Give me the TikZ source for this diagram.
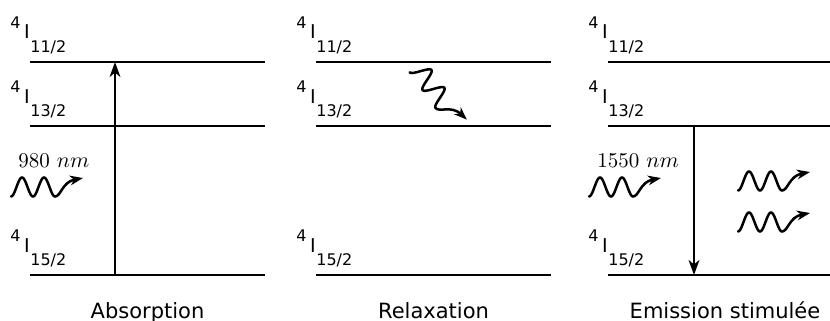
\documentclass[tikz,border=0pt]{standalone}
\usepackage{fontspec}
\newfontfamily\dejavu{DejaVu Sans}
\usetikzlibrary{arrows.meta}
\newcommand{\lev}[1]{\raisebox{5.5pt}{\fontsize{8}{9}\selectfont 4}\hspace{1.8pt}{\fontsize{9.5}{11}\selectfont I}\hspace{0.3pt}\raisebox{-6.5pt}{\fontsize{8}{9}\selectfont #1/2}}
\begin{document}
\begin{tikzpicture}[x=0.5pt,y=-0.5pt,
  level/.style={line width=1.1pt},
  trans/.style={line width=0.9pt,-{Stealth[length=7.5pt,width=5.4pt,inset=2.2pt]}},
  lvllabel/.style={inner sep=0pt,anchor=base west,font=\dejavu},
  caption/.style={inner sep=0pt,anchor=base,font=\dejavu\fontsize{10.5}{12}\selectfont},
  wl/.style={inner sep=0pt,anchor=base west,font=\fontsize{10.5}{12}\selectfont},
  pics/photon/.style={code={
    \draw[line width=1.25pt,line cap=round,-{Stealth[length=6.5pt,width=4.8pt,inset=2pt]}]
      plot[smooth,domain=0:44,samples=45] (\x,{9.5*cos(\x*360/22)})
      .. controls (50,9.5) and (51,-5) .. (72,-9);
  }}
]
\useasboundingbox (0,0) rectangle (830,321);
% energy levels
\foreach \p/\a/\b in {A/30/265, R/316/551, E/608/830}{
  \foreach \l/\y in {h/62, m/126, g/275}{
    \coordinate (\p\l W) at (\a,\y);
    \coordinate (\p\l E) at (\b,\y);
    \draw[level] (\p\l W) -- (\p\l E);
  }
  \node[lvllabel] (\p labh) at (\a-20,39)  {\lev{11}};
  \node[lvllabel] (\p labm) at (\a-20,103) {\lev{13}};
  \node[lvllabel] (\p labg) at (\a-20,252) {\lev{15}};
}
% transitions
\coordinate (abs0) at (115,275);
\coordinate (abs1) at (115,62);
\draw[trans] (abs0) -- (abs1);
\coordinate (em0) at (694,126);
\coordinate (em1) at (694,275);
\draw[trans] (em0) -- (em1);
% photons
\node[wl] (wl1) at (18,167) {980 $nm$};
\pic at (11,187) {photon};
\node[wl] (wl2) at (597,167) {1550 $nm$};
\pic at (589,187) {photon};
\pic at (738,181) {photon};
\pic at (738,222) {photon};
\pic[rotate=-54] at (417.3,66.7) {photon};
% captions
\node[caption] (c1) at (147.5,318) {Absorption};
\node[caption] (c2) at (433.5,318) {Relaxation};
\node[caption] (c3) at (725,318) {Emission stimulée};
\end{tikzpicture}
\end{document}
